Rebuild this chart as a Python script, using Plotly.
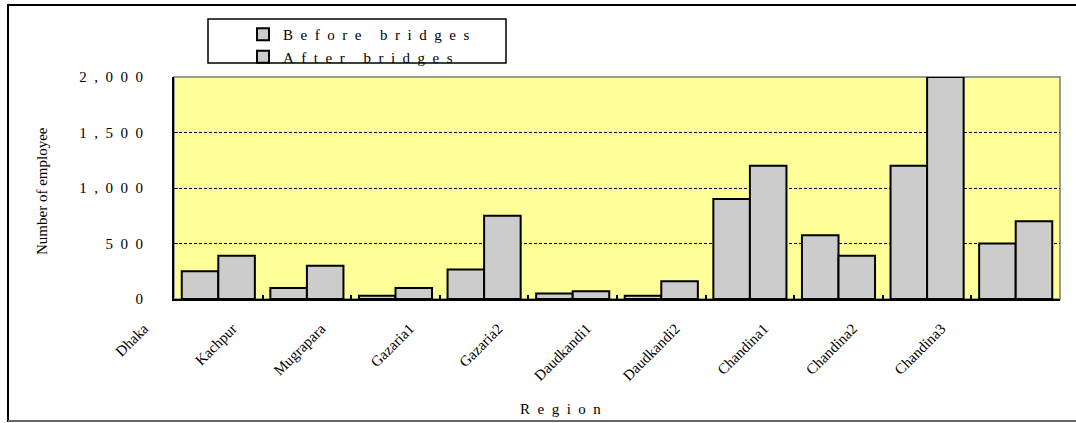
import plotly.graph_objects as go

# ---- data ----
regions = ["Dhaka", "Kachpur", "Mugrapara", "Gazaria1", "Gazaria2",
           "Daudkandi1", "Daudkandi2", "Chandina1", "Chandina2", "Chandina3"]
before_bridges = [250, 100, 30, 265, 50, 30, 900, 575, 1200, 500]
after_bridges = [390, 300, 100, 750, 70, 160, 1200, 390, 2000, 700]
y_ticks = [0, 500, 1000, 1500, 2000]
y_tick_labels = ["0", "500", "1,000", "1,500", "2,000"]

# ---- layout geometry (pixels) ----
W, H = 1076, 423
ML, MR, MT, MB = 100, 16, 77, 124
PW, PH = W - ML - MR, H - MT - MB
PLOT_LEFT = 174
FONT = "Liberation Serif"
NB = "\u00a0"


def spaced(s, n=2):
    words = s.split(" ")
    return (NB * (2 * n + 1)).join((NB * n).join(list(w)) for w in words)


def px_x(px):
    return (px - ML) / PW


def px_y(py):
    return 1 - (py - MT) / PH


n = len(regions)
idx = list(range(n))
dom0 = px_x(PLOT_LEFT)
units_per_px = n / (PW - (PLOT_LEFT - ML))
x2_lo = -0.5 - (PLOT_LEFT - ML) * units_per_px
label_offset = -0.84

fig = go.Figure()
fig.add_trace(go.Bar(x=idx, y=before_bridges, name=spaced("Before bridges"),
                     marker=dict(color="#CCCCCC", line=dict(color="black", width=2))))
fig.add_trace(go.Bar(x=idx, y=after_bridges, name=spaced("After bridges"),
                     marker=dict(color="#CCCCCC", line=dict(color="black", width=2))))
# helper trace carrying the category label axis
fig.add_trace(go.Scatter(x=[], y=[], xaxis="x2", yaxis="y2", showlegend=False,
                         hoverinfo="skip"))

fig.update_layout(
    width=W, height=H,
    margin=dict(l=ML, r=MR, t=MT, b=MB),
    paper_bgcolor="white",
    plot_bgcolor="rgba(0,0,0,0)",
    barmode="group", bargap=0.175, bargroupgap=0,
    font=dict(family=FONT, size=15, color="black"),
    showlegend=True,
    legend=dict(x=px_x(243), y=px_y(18), xanchor="left", yanchor="top",
                bgcolor="rgba(0,0,0,0)", borderwidth=0,
                font=dict(family=FONT, size=15, color="black")),
    xaxis=dict(domain=[dom0, 1], range=[-0.5, n - 0.5],
               tickvals=[i + 0.5 for i in idx], showticklabels=False,
               ticks="inside", ticklen=4, tickwidth=2, tickcolor="black",
               showgrid=False, zeroline=False,
               showline=True, linecolor="black", linewidth=2),
    yaxis=dict(range=[0, 2000], tickvals=y_ticks,
               ticktext=[spaced(t) for t in y_tick_labels],
               ticks="inside", ticklen=4, tickwidth=1, tickcolor="black",
               ticklabelstandoff=26,
               showgrid=True, gridcolor="black", gridwidth=1, griddash="3px,2px",
               zeroline=False, showline=True, linecolor="black", linewidth=2,
               tickfont=dict(family=FONT, size=15)),
    xaxis2=dict(domain=[0, 1], range=[x2_lo, n - 0.5], anchor="y2",
                tickvals=[i + label_offset for i in idx], ticktext=regions,
                tickangle=-45, ticks="", ticklabelstandoff=17,
                showgrid=False, zeroline=False, showline=False,
                tickfont=dict(family=FONT, size=15)),
    yaxis2=dict(domain=[0, 1], range=[0, 2000], anchor="x2",
                showgrid=False, zeroline=False, showline=False,
                showticklabels=False, ticks=""),
)

shapes = [
    # plot area background and grey frame
    dict(type="rect", xref="x domain", yref="y domain", x0=0, x1=1, y0=0, y1=1,
         fillcolor="#FFFF99", line=dict(color="#999999", width=2), layer="below"),
    # legend frame
    dict(type="rect", xref="paper", yref="paper",
         x0=px_x(208), x1=px_x(506), y0=px_y(63), y1=px_y(19),
         line=dict(color="black", width=1.5), fillcolor="rgba(0,0,0,0)"),
    # outer chart frame
    dict(type="rect", xref="paper", yref="paper",
         x0=px_x(8), x1=px_x(1090), y0=px_y(421), y1=px_y(5),
         line=dict(color="black", width=2), fillcolor="rgba(0,0,0,0)"),
    # grey bottom edge of the outer frame
    dict(type="line", xref="paper", yref="paper",
         x0=px_x(8), x1=px_x(1090), y0=px_y(421), y1=px_y(421),
         line=dict(color="#666666", width=2)),
]
fig.update_layout(shapes=shapes)

fig.add_annotation(text=spaced("Region"), xref="paper", yref="paper",
                   x=px_x(560), y=px_y(409), showarrow=False,
                   xanchor="center", yanchor="middle",
                   font=dict(family=FONT, size=15))
fig.add_annotation(text="Number of employee", xref="paper", yref="paper",
                   x=px_x(42), y=px_y(191), showarrow=False, textangle=-90,
                   xanchor="center", yanchor="middle",
                   font=dict(family=FONT, size=15))

fig.write_html("out.html")
